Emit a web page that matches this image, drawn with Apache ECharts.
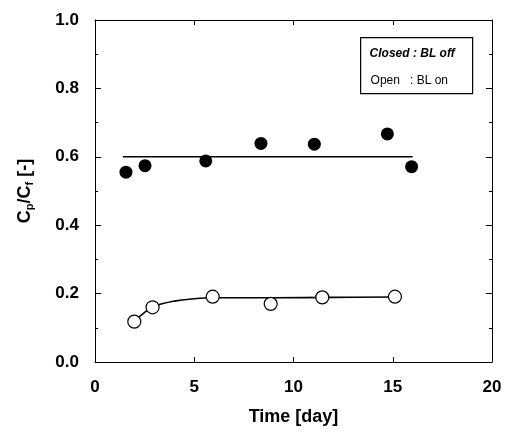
<!DOCTYPE html>
<html lang="en">
<head>
    <meta charset="UTF-8">
    <title>Cp/Cf vs time</title>
    <style>
        html, body { margin: 0; padding: 0; background: #fff; }
        #chart { width: 506px; height: 438px; }
    </style>
</head>
<body>
    <div id="chart"></div>
    <script src="https://cdn.jsdelivr.net/npm/echarts@6/dist/echarts.min.js"></script>
    <script type="text/javascript">
        // closed symbols : BL off
        var closedPts = [[1.56, 0.555], [2.52, 0.574], [5.58, 0.588], [8.36, 0.639],
                         [11.05, 0.637], [14.73, 0.667], [15.95, 0.571]];
        // open symbols : BL on
        var openPts = [[1.98, 0.118], [2.9, 0.16], [5.93, 0.191], [8.85, 0.17],
                       [11.45, 0.189], [15.11, 0.191]];
        // fitted lines
        var closedFit = [[1.4, 0.6], [16.0, 0.6]];
        var openFit = [[1.98, 0.118], [2.5, 0.145], [3.0, 0.163], [4.0, 0.178], [5.0, 0.185],
                       [6.0, 0.188], [9.0, 0.188], [12.0, 0.189], [15.11, 0.19]];

        var font = 'Arial, "Liberation Sans", sans-serif';
        var chart = echarts.init(document.getElementById('chart'));

        var lineStyle = { color: '#000', width: 1 };
        var axisLbl = { color: '#000', fontFamily: font, fontSize: 17, fontWeight: 'bold' };

        var option = {
            animation: false,
            backgroundColor: '#fff',
            grid: { left: 95, right: 14, top: 20, bottom: 76 },
            xAxis: [{
                type: 'value', min: 0, max: 20, interval: 5,
                axisLine: { show: true, onZero: false, lineStyle: lineStyle },
                axisTick: { show: true, inside: true, length: 5, lineStyle: lineStyle },
                axisLabel: Object.assign({ margin: 17 }, axisLbl),
                splitLine: { show: false },
                name: 'Time [day]', nameLocation: 'middle', nameGap: 46,
                nameTextStyle: { color: '#000', fontFamily: font, fontSize: 18, fontWeight: 'bold' }
            }, {
                type: 'value', min: 0, max: 20, interval: 5, position: 'top',
                axisLine: { show: true, onZero: false, lineStyle: lineStyle },
                axisTick: { show: true, inside: true, length: 5, lineStyle: lineStyle },
                axisLabel: { show: false },
                splitLine: { show: false }
            }],
            yAxis: [{
                type: 'value', min: 0, max: 1, interval: 0.2,
                axisLine: { show: true, onZero: false, lineStyle: lineStyle },
                axisTick: { show: true, inside: true, length: 6, lineStyle: lineStyle },
                minorTick: { show: true, splitNumber: 2, length: 3, lineStyle: lineStyle },
                axisLabel: Object.assign({ margin: 16, formatter: function (v) { return v.toFixed(1); } }, axisLbl),
                splitLine: { show: false },
                minorSplitLine: { show: false },
                name: 'C{sub|p}/C{sub|f} [-]', nameLocation: 'middle', nameGap: 60, nameRotate: 90,
                nameTextStyle: {
                    color: '#000', fontFamily: font, fontSize: 18, fontWeight: 'bold',
                    rich: { sub: { fontSize: 11, fontFamily: font, fontWeight: 'bold', verticalAlign: 'bottom', padding: [8, 0, 0, 0] } }
                }
            }, {
                type: 'value', min: 0, max: 1, interval: 0.2, position: 'right',
                axisLine: { show: true, onZero: false, lineStyle: lineStyle },
                axisTick: { show: true, inside: true, length: 6, lineStyle: lineStyle },
                minorTick: { show: true, splitNumber: 2, length: 3, lineStyle: lineStyle },
                axisLabel: { show: false },
                splitLine: { show: false }
            }],
            graphic: [{
                type: 'group', left: 360, top: 37,
                children: [{
                    type: 'rect', shape: { x: 0, y: 0, width: 112, height: 56 },
                    style: { fill: '#fff', stroke: '#000', lineWidth: 1.2 }
                }, {
                    type: 'text', x: 9, y: 16,
                    style: {
                        text: '{a|Closed}{b| : BL off}', verticalAlign: 'middle',
                        rich: {
                            a: { fontFamily: font, fontSize: 12, fontStyle: 'italic', fontWeight: 'bold', fill: '#000' },
                            b: { fontFamily: font, fontSize: 12, fontStyle: 'italic', fontWeight: 'bold', fill: '#000' }
                        }
                    }
                }, {
                    type: 'text', x: 10, y: 43,
                    style: {
                        text: 'Open   : BL on', verticalAlign: 'middle',
                        font: '12px ' + font, fill: '#000'
                    }
                }]
            }],
            series: [{
                type: 'line', data: closedFit, symbol: 'none', z: 2,
                lineStyle: { color: '#000', width: 1.6 }
            }, {
                type: 'line', data: openFit, symbol: 'none', smooth: 0.4, z: 2,
                lineStyle: { color: '#000', width: 1.6 }
            }, {
                type: 'scatter', data: closedPts, symbol: 'circle', symbolSize: 13, z: 3,
                itemStyle: { color: '#000', opacity: 1 }
            }, {
                type: 'scatter', data: openPts, symbol: 'circle', symbolSize: 13, z: 3,
                itemStyle: { color: '#fff', borderColor: '#000', borderWidth: 1.2, opacity: 1 }
            }]
        };

        chart.setOption(option);
    </script>
</body>
</html>
